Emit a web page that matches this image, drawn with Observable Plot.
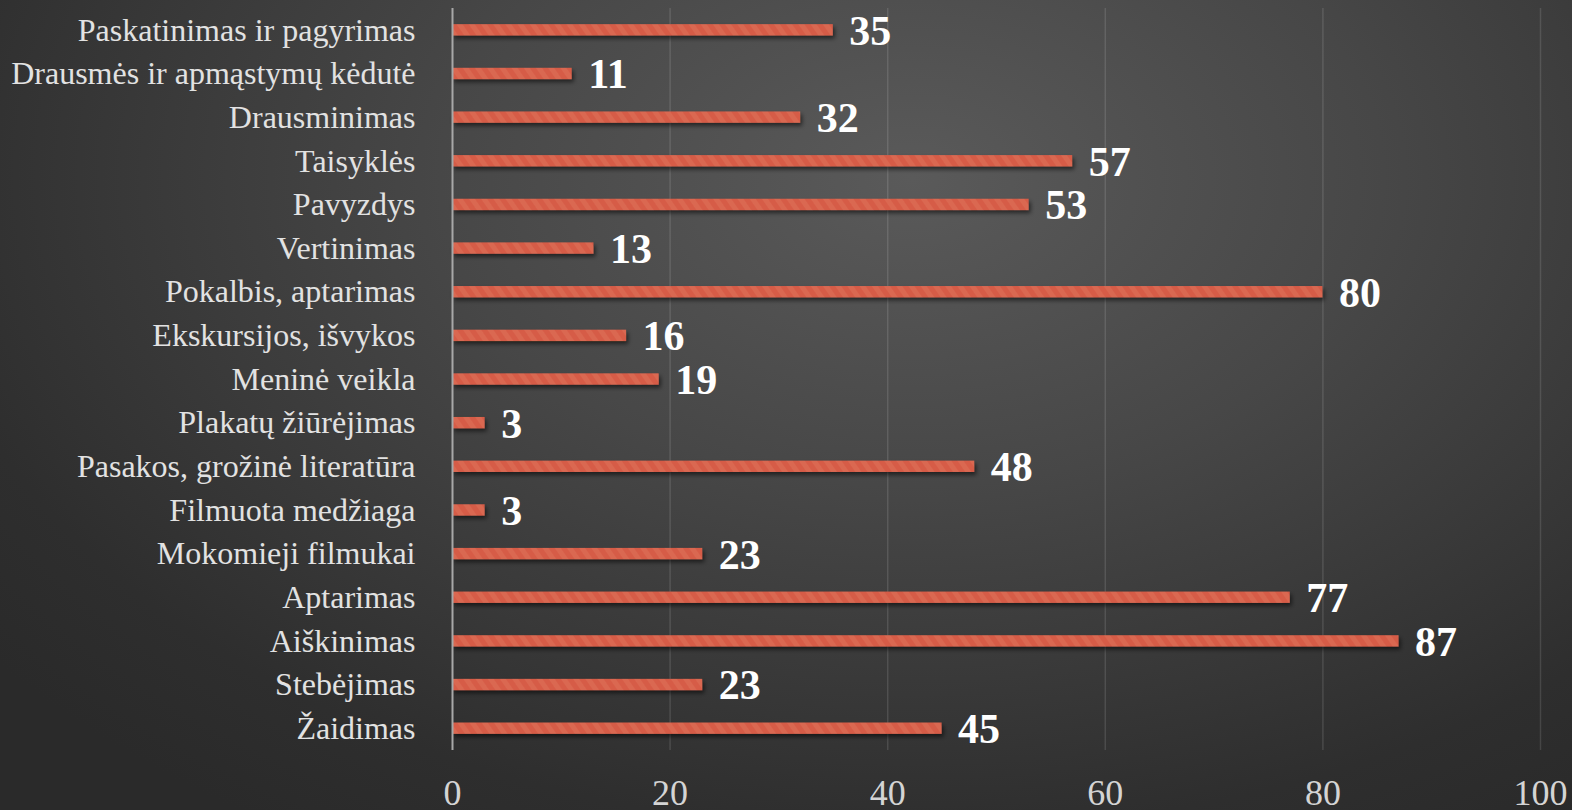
<!DOCTYPE html>
<html>
<head>
<meta charset="utf-8">
<script src="https://cdn.jsdelivr.net/npm/d3@7"></script>
<script src="https://cdn.jsdelivr.net/npm/@observablehq/plot@0.6"></script>
<style>
  html, body { margin: 0; padding: 0; width: 1572px; height: 810px; overflow: hidden; }
  body { background: radial-gradient(ellipse 75% 95% at 58% 22%, #5a5a5a 0%, #474747 40%, #2e2e2e 85%, #2a2a2a 100%); }
  #chart svg { display: block; }
</style>
</head>
<body>
<div id="chart"></div>
<script>
const categories = [
  "Paskatinimas ir pagyrimas",
  "Drausmės ir apmąstymų kėdutė",
  "Drausminimas",
  "Taisyklės",
  "Pavyzdys",
  "Vertinimas",
  "Pokalbis, aptarimas",
  "Ekskursijos, išvykos",
  "Meninė veikla",
  "Plakatų žiūrėjimas",
  "Pasakos, grožinė literatūra",
  "Filmuota medžiaga",
  "Mokomieji filmukai",
  "Aptarimas",
  "Aiškinimas",
  "Stebėjimas",
  "Žaidimas"
];
const values = [35, 11, 32, 57, 53, 13, 80, 16, 19, 3, 48, 3, 23, 77, 87, 23, 45];
const xTicks = [0, 20, 40, 60, 80, 100];

const data = categories.map((c, i) => ({category: c, value: values[i]}));

const svg = Plot.plot({
  width: 1572,
  height: 810,
  marginLeft: 452,
  marginRight: 32,
  marginTop: 8,
  marginBottom: 60,
  style: {background: "transparent", fontFamily: "'Liberation Serif', 'Times New Roman', serif", color: "#dcdcdc", overflow: "visible"},
  x: {domain: [0, 100], ticks: xTicks, label: null},
  y: {domain: categories, paddingInner: 0.74, paddingOuter: 0.37, round: false, label: null},
  marks: [
    Plot.ruleX(xTicks.filter(d => d > 0), {stroke: "#ffffff", strokeOpacity: 0.12, strokeWidth: 1.5}),
    Plot.axisX({ticks: xTicks, tickSize: 0, tickPadding: 29, fontSize: 36, fill: "#d4d4d4", label: null}),
    Plot.axisY({tickSize: 0, tickPadding: 37, fontSize: 32, fill: "#e2e2e2", label: null}),
    Plot.barX(data, {x: "value", y: "category", fill: "url(#barpat)", className: "bars"}),
    Plot.ruleX([0], {stroke: "#a8a8a8", strokeWidth: 2}),
    Plot.text(data, {x: "value", y: "category", text: d => String(d.value), textAnchor: "start", dx: 16, dy: 1, fontSize: 42, fontWeight: "bold", fill: "#ffffff"})
  ]
});

// pattern and shadow definitions
const ns = "http://www.w3.org/2000/svg";
const defs = document.createElementNS(ns, "defs");
defs.innerHTML = `
  <pattern id="barpat" patternUnits="userSpaceOnUse" width="10" height="10" patternTransform="rotate(-35)">
    <rect width="10" height="10" fill="#d65c47"/>
    <rect width="5" height="10" fill="#e27a64" opacity="0.35"/>
  </pattern>
  <filter id="shadow" x="-5%" y="-50%" width="110%" height="250%">
    <feDropShadow dx="2" dy="3" stdDeviation="2" flood-color="#000" flood-opacity="0.55"/>
  </filter>`;
svg.insertBefore(defs, svg.firstChild);
const bars = svg.querySelector("g.bars");
if (bars) bars.setAttribute("filter", "url(#shadow)");

document.getElementById("chart").appendChild(svg);
</script>
</body>
</html>
